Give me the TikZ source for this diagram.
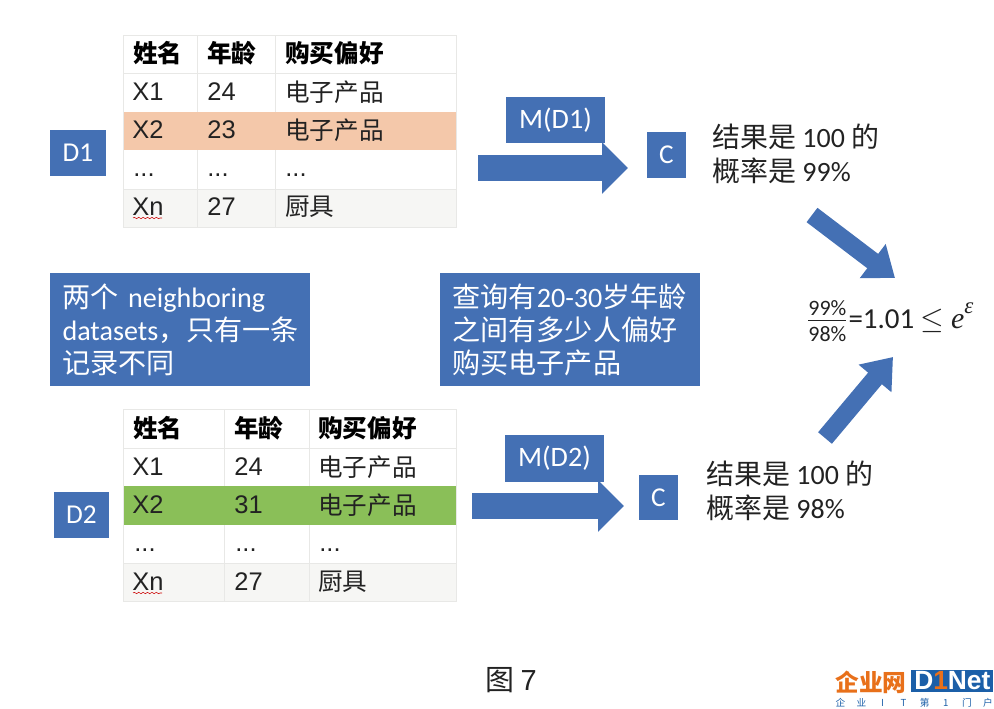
\documentclass[tikz,border=0pt]{standalone}
\usepackage{fontspec}
\usepackage{amsmath}
\setmainfont{Carlito}
\newfontfamily\cjk{Noto Sans CJK SC}
\newfontfamily\arialfont{Liberation Sans}
\newfontfamily\serifmath{Liberation Serif}
\usetikzlibrary{arrows.meta,decorations.pathmorphing}
\definecolor{boxblue}{HTML}{4470B4}
\definecolor{rowpeach}{HTML}{F4C8AA}
\definecolor{rowgreen}{HTML}{8ABF58}
\definecolor{rowgrey}{HTML}{F6F6F4}
\definecolor{gridgrey}{HTML}{E8E8E6}
\definecolor{inktext}{HTML}{222222}
\definecolor{logoorange}{HTML}{E8701A}
\definecolor{logoblue}{HTML}{1B5FA8}
\newcommand{\logochar}[1]{\makebox[12pt]{#1}}
\tikzset{
  cell/.style={anchor=west,inner sep=0pt,text=inktext,font=\arialfont\fontsize{14.5}{16}\selectfont},
  zhcell/.style={cell,font=\cjk\fontsize{14}{16}\selectfont},
  dotcell/.style={cell,anchor=base west},
  headcell/.style={anchor=west,inner sep=0pt,text=black,font=\cjk\bfseries\fontsize{14}{16}\selectfont},
  bluebox/.style={fill=boxblue,inner sep=0pt,text=white,font=\fontsize{15.5}{18}\selectfont},
  notebox/.style={bluebox,minimum width=5.2cm,minimum height=2.26cm,align=left,text width=4.7cm,font=\cjk\fontsize{16}{18.8}\selectfont},
  plaintext/.style={anchor=west,inner sep=0pt,align=left,text=inktext,font=\cjk\fontsize{15.9}{19.3}\selectfont},
  bigarrow/.style={draw=boxblue,line width=0.52cm,-{Triangle[length=0.52cm,width=1cm]}},
  slantarrow/.style={draw=boxblue,line width=0.36cm,-{Triangle[length=0.56cm,width=0.82cm]}},
  gridline/.style={draw=gridgrey,line width=0.5pt},
  squiggle/.style={draw=red!80!black,line width=0.3pt,decorate,decoration={snake,amplitude=0.4pt,segment length=2.5pt}},
}
\begin{document}
\begin{tikzpicture}[x=0.02cm,y=-0.02cm]
  \useasboundingbox (0,0) rectangle (994,709);

  % upper table
  \fill[rowpeach] (123,112) rectangle (456,150);
  \fill[rowgrey] (123,189) rectangle (456,227);
  \draw[gridline] (123,35) rectangle (456,227);
  \draw[gridline] (123,73) -- (456,73) (123,189) -- (456,189);
  \draw[gridline] (197,35) -- (197,112) (197,150) -- (197,227);
  \draw[gridline] (275,35) -- (275,112) (275,150) -- (275,227);

  \node[headcell] (a11) at (133,53) {姓名};
  \node[headcell] (a12) at (207,53) {年龄};
  \node[headcell] (a13) at (285,53) {购买偏好};
  \node[cell] (a21) at (132,92) {X1};
  \node[cell] (a22) at (207,92) {24};
  \node[zhcell] (a23) at (285,92) {电子产品};
  \node[cell] (a31) at (132,130) {X2};
  \node[cell] (a32) at (207,130) {23};
  \node[zhcell] (a33) at (285,130) {电子产品};
  \node[dotcell] (a41) at (133,177) {...};
  \node[dotcell] (a42) at (207,177) {...};
  \node[dotcell] (a43) at (285,177) {...};
  \node[cell] (a51) at (132,207) {Xn};
  \node[cell] (a52) at (207,207) {27};
  \node[zhcell] (a53) at (285,207) {厨具};
  \draw[squiggle] (133,218) -- (162,218);

  % lower table
  \fill[rowgreen] (123,486) rectangle (456,525);
  \fill[rowgrey] (123,563) rectangle (456,601);
  \draw[gridline] (123,409) rectangle (456,601);
  \draw[gridline] (123,448) -- (456,448) (123,563) -- (456,563);
  \draw[gridline] (224,409) -- (224,486) (224,525) -- (224,601);
  \draw[gridline] (309,409) -- (309,486) (309,525) -- (309,601);

  \node[headcell] (b11) at (133,428) {姓名};
  \node[headcell] (b12) at (234,428) {年龄};
  \node[headcell] (b13) at (318,428) {购买偏好};
  \node[cell] (b21) at (132,467) {X1};
  \node[cell] (b22) at (234,467) {24};
  \node[zhcell] (b23) at (318,467) {电子产品};
  \node[cell] (b31) at (132,505) {X2};
  \node[cell] (b32) at (234,505) {31};
  \node[zhcell] (b33) at (318,505) {电子产品};
  \node[dotcell] (b41) at (134,551) {...};
  \node[dotcell] (b42) at (235,551) {...};
  \node[dotcell] (b43) at (319,551) {...};
  \node[cell] (b51) at (132,582) {Xn};
  \node[cell] (b52) at (234,582) {27};
  \node[zhcell] (b53) at (318,582) {厨具};
  \draw[squiggle] (133,593) -- (162,593);

  % blue boxes
  \begin{scope}[every node/.style={bluebox}]
    \node[minimum width=1.12cm,minimum height=0.94cm] (d1) at (78,153) {D1};
    \node[minimum width=1.1cm,minimum height=0.92cm] (d2) at (81.5,515) {D2};
    \node[minimum width=1.98cm,minimum height=0.92cm,font=\fontsize{16}{18}\selectfont] (m1) at (555.5,120) {M(D1)};
    \node[minimum width=1.98cm,minimum height=0.94cm,font=\fontsize{16}{18}\selectfont] (m2) at (554.5,458.5) {M(D2)};
    \node[minimum width=0.78cm,minimum height=0.92cm] (c1) at (666.5,155) {C};
    \node[minimum width=0.78cm,minimum height=0.92cm] (c2) at (658.5,497.5) {C};
  \end{scope}

  \node[notebox] (note1) at (180,329.5) {两个 {\rmfamily neighboring}\\{\rmfamily datasets}，只有一条\\记录不同};
  \node[notebox] (note2) at (570,329.5) {查询有{\rmfamily 20-30}岁年龄\\之间有多少人偏好\\购买电子产品};

  % results
  \node[plaintext] (r1) at (712,154) {结果是 {\rmfamily 100} 的\\概率是 {\rmfamily 99\%}};
  \node[plaintext] (r2) at (706,491) {结果是 {\rmfamily 100} 的\\概率是 {\rmfamily 98\%}};
  \node[anchor=west,inner sep=0pt,text=inktext,font=\fontsize{16.5}{19}\selectfont] (ratio) at (806,321)
    {$\genfrac{}{}{0.8pt}{}{\mbox{\fontsize{12.5}{13}\selectfont 99\%\rule[-1.5pt]{0pt}{1pt}}}{\mbox{\fontsize{12.5}{13}\selectfont 98\%\rule{0pt}{10.5pt}}}$=1.01 $\leq$ {\serifmath\itshape\fontsize{17}{19}\selectfont e\raisebox{1.1ex}{\fontsize{13}{14}\selectfont ε}}};

  % arrows
  \coordinate (s1) at (478,168);
  \coordinate (e1) at (628,168);
  \coordinate (s2) at (472,506);
  \coordinate (e2) at (624,506);
  \coordinate (s3) at (812,215);
  \coordinate (e3) at (895,278);
  \coordinate (s4) at (825,438);
  \coordinate (e4) at (893,357);
  \draw[bigarrow] (s1) -- (e1);
  \draw[bigarrow] (s2) -- (e2);
  \draw[slantarrow] (s3) -- (e3);
  \draw[slantarrow] (s4) -- (e4);

  % caption and logo
  \node[inner sep=0pt,text=inktext,font=\cjk\fontsize{16.5}{18}\selectfont] (fig) at (511,680) {图 {\arialfont 7}};
  \node[anchor=west,inner sep=0pt,text=logoorange,font=\cjk\bfseries\fontsize{13.5}{14}\selectfont] (logoa) at (835,682) {企业网};
  \node[anchor=west,inner sep=0pt,minimum width=1.64cm,minimum height=0.44cm,fill=logoblue,text=white,font=\arialfont\bfseries\fontsize{15}{15}\selectfont] (logob) at (911,681) {D{\color{logoorange}1}Net};
  \node[anchor=west,inner sep=0pt,text=logoblue,font=\cjk\fontsize{5.5}{6}\selectfont] (logoc) at (829.5,703) {\logochar{企}\logochar{业}\logochar{I}\logochar{T}\logochar{第}\logochar{1}\logochar{门}\logochar{户}};
\end{tikzpicture}
\end{document}
